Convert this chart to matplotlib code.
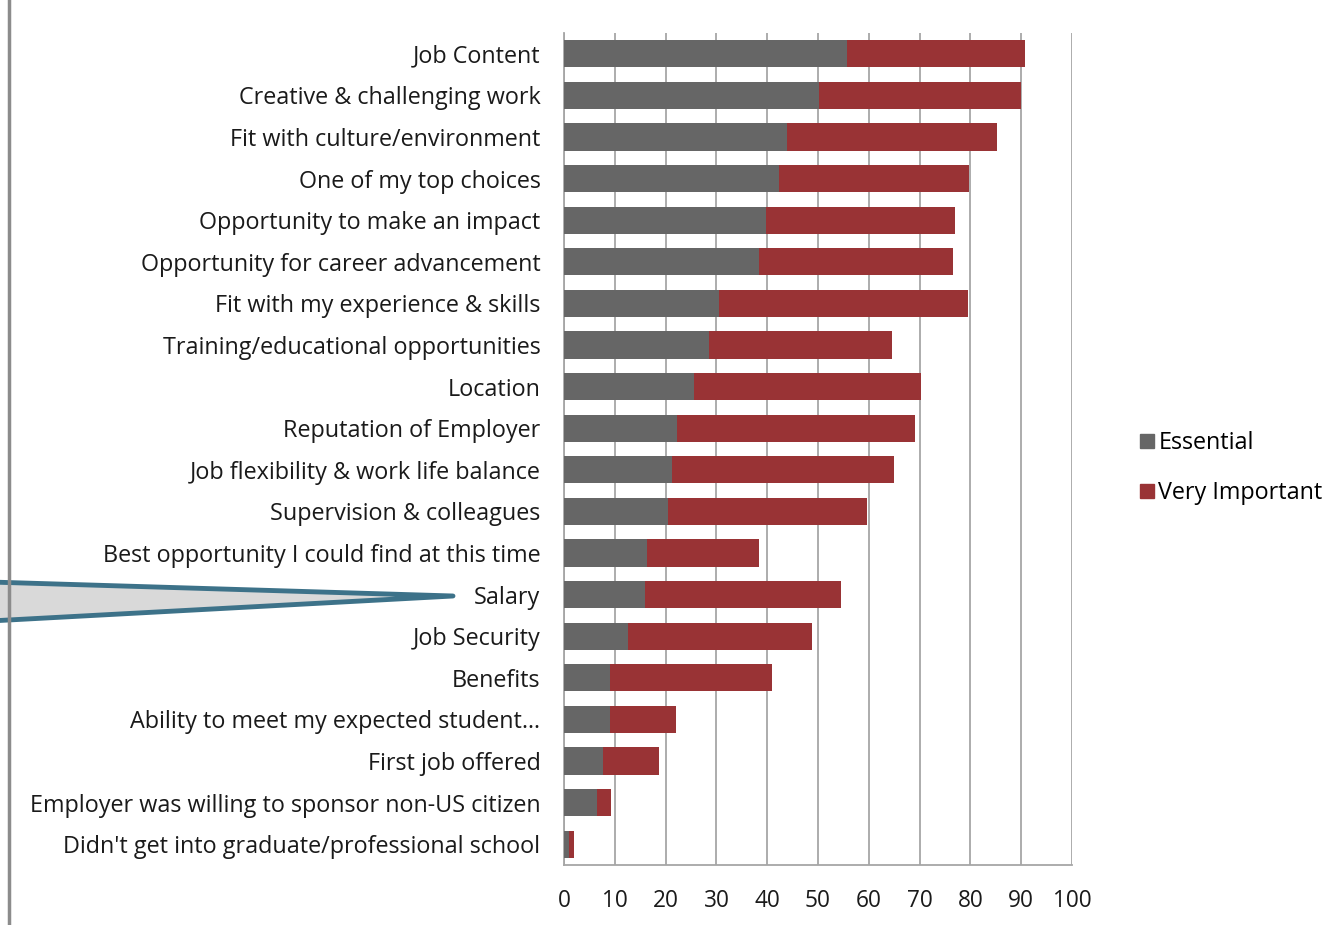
import matplotlib.pyplot as plt
from matplotlib.patches import Polygon
from matplotlib.lines import Line2D

plt.rcParams['font.family'] = ['Open Sans', 'DejaVu Sans']

categories = [
    "Job Content",
    "Creative & challenging work",
    "Fit with culture/environment",
    "One of my top choices",
    "Opportunity to make an impact",
    "Opportunity for career advancement",
    "Fit with my experience & skills",
    "Training/educational opportunities",
    "Location",
    "Reputation of Employer",
    "Job flexibility & work life balance",
    "Supervision & colleagues",
    "Best opportunity I could find at this time",
    "Salary",
    "Job Security",
    "Benefits",
    "Ability to meet my expected student\u2026",
    "First job offered",
    "Employer was willing to sponsor non-US citizen",
    "Didn't get into graduate/professional school",
]
essential = [55.7, 50.2, 43.9, 42.3, 39.8, 38.4, 30.5, 28.5, 25.6, 22.2,
             21.3, 20.5, 16.3, 15.9, 12.6, 9.1, 9.1, 7.7, 6.5, 1.0]
very_important = [35.0, 39.8, 41.3, 37.4, 37.2, 38.2, 49.0, 36.1, 44.7, 46.9,
                  43.7, 39.1, 22.1, 38.6, 36.2, 31.8, 12.9, 11.0, 2.8, 1.0]
xticks = list(range(0, 101, 10))

GRAY = "#666666"
RED = "#993335"

fig = plt.figure(figsize=(13.36, 9.25), dpi=100)
ax = fig.add_axes([564 / 1336, 1 - 865 / 925, (1072 - 564) / 1336, (865 - 33) / 925])

y = list(range(len(categories)))
ax.barh(y, essential, height=0.65, color=GRAY, label="Essential", zorder=3)
ax.barh(y, very_important, left=essential, height=0.65, color=RED,
        label="Very Important", zorder=3)

ax.set_xlim(0, 100)
ax.set_ylim(len(categories) - 0.5, -0.5)
ax.set_xticks(xticks)
ax.set_yticks(y)
ax.set_yticklabels(categories, fontsize=16.8, color="#1a1a1a")
ax.tick_params(axis="x", length=0, pad=17, labelsize=16.3, labelcolor="#1a1a1a")
ax.tick_params(axis="y", length=0, pad=17)
ax.grid(axis="x", color="#a6a6a6", linewidth=1.3, zorder=0)
for side in ("top", "right"):
    ax.spines[side].set_visible(False)
ax.spines["left"].set_color("#a6a6a6")
ax.spines["bottom"].set_color("#a6a6a6")
ax.spines["left"].set_linewidth(1.3)
ax.spines["bottom"].set_linewidth(1.3)

handles = [Line2D([], [], marker="s", linestyle="", markersize=9.5, color=GRAY),
           Line2D([], [], marker="s", linestyle="", markersize=9.5, color=RED)]
fig.legend(handles, ["Essential", "Very Important"], loc="center left",
           bbox_to_anchor=(1114 / 1336, 1 - 468 / 925), frameon=False,
           fontsize=16.8, handletextpad=0.0, handlelength=1.0, labelspacing=1.1)

# vertical rule and callout pointing at "Salary"
fig.add_artist(Line2D([9 / 1336, 9 / 1336], [0, 1], color="#8c8c8c", linewidth=2.5))
callout = Polygon([(-10 / 1336, 1 - 582 / 925), (453 / 1336, 1 - 596 / 925),
                   (-10 / 1336, 1 - 621 / 925)], closed=True,
                  facecolor="#d9d9d9", edgecolor="#3d7289", linewidth=3.5,
                  joinstyle="round", transform=fig.transFigure, clip_on=False)
fig.add_artist(callout)

fig.savefig("out.png", dpi=100)
